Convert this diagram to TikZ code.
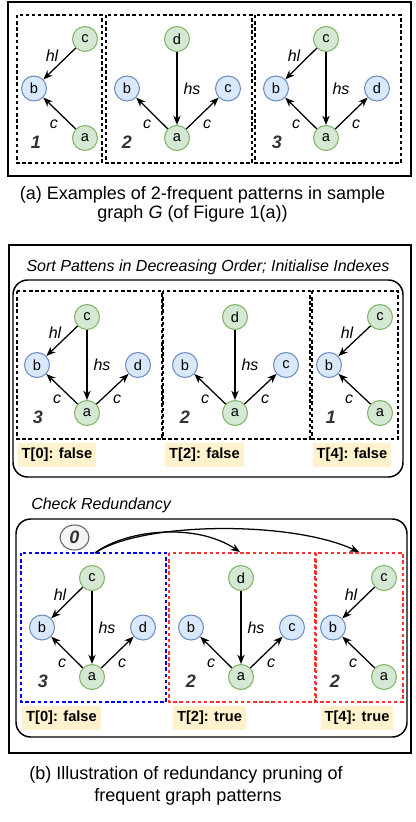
\documentclass[tikz,border=0pt]{standalone}
\usepackage{fontspec}
\setmainfont{Liberation Sans}
\usetikzlibrary{arrows.meta,shapes.geometric}
\definecolor{gfill}{HTML}{D5E8D4}
\definecolor{gline}{HTML}{82B366}
\definecolor{bfill}{HTML}{DAE8FC}
\definecolor{bline}{HTML}{6C8EBF}
\definecolor{tagfill}{HTML}{FFF2CC}
\definecolor{numgray}{HTML}{333333}
\definecolor{zfill}{HTML}{F5F5F5}
\definecolor{zline}{HTML}{666666}
\definecolor{redd}{HTML}{FF3333}
\definecolor{blued}{HTML}{0000FF}
\tikzset{
  gn/.style={circle, draw=gline, fill=gfill, line width=0.8pt, minimum size=18.75pt, inner sep=0pt, font=\fontsize{11}{12}\selectfont},
  bn/.style={circle, draw=bline, fill=bfill, line width=0.8pt, minimum size=18.75pt, inner sep=0pt, font=\fontsize{11}{12}\selectfont},
  ed/.style={-{Stealth[length=7pt,width=5.5pt]}, line width=0.95pt},
  el/.style={font=\fontsize{12}{14}\selectfont\itshape, inner sep=0pt},
  num/.style={font=\fontsize{13.5}{15}\selectfont\bfseries\itshape, text=numgray, inner sep=0pt},
  tag/.style={fill=tagfill, font=\fontsize{11}{13}\selectfont\bfseries, minimum height=18pt, inner xsep=3pt, inner ysep=0pt},
  dbox/.style={line width=0.95pt, dash pattern=on 2.6pt off 2pt},
  frame/.style={line width=1.8pt},
  rbox/.style={line width=1.1pt, rounded corners=11pt},
  captxt/.style={font=\fontsize{13.5}{16}\selectfont, inner sep=0pt},
  ttl/.style={font=\fontsize{12}{14}\selectfont\itshape, inner sep=0pt}
}
% pattern with c top, b left, d right, a bottom
\newcommand\patThree[5]{%
\begin{scope}[shift={(#2,#3)}]
  \node[gn] (#1t) at (0,0) {c};
  \node[bn] (#1b) at (-50,#4) {b};
  \node[bn] (#1r) at (51,#4) {d};
  \node[gn] (#1a) at (0,2*#4) {a};
  \draw[ed] (#1t) -- (#1b);
  \draw[ed] (#1t) -- (#1a);
  \draw[ed] (#1a) -- (#1b);
  \draw[ed] (#1a) -- (#1r);
  \node[el] (#1l1) at (-32,0.33*#4) {hl};
  \node[el] (#1l2) at (15,#4) {hs};
  \node[el] (#1l3) at (-30,1.72*#4) {c};
  \node[el] (#1l4) at (30,1.72*#4) {c};
  \node[num] (#1n) at (-49,2.08*#4) {#5};
\end{scope}}
% pattern with d top, b left, c right, a bottom
\newcommand\patTwo[5]{%
\begin{scope}[shift={(#2,#3)}]
  \node[gn] (#1t) at (0,0) {d};
  \node[bn] (#1b) at (-50,#4) {b};
  \node[bn] (#1r) at (51,#4) {c};
  \node[gn] (#1a) at (0,2*#4) {a};
  \draw[ed] (#1t) -- (#1a);
  \draw[ed] (#1a) -- (#1b);
  \draw[ed] (#1a) -- (#1r);
  \node[el] (#1l2) at (15,#4) {hs};
  \node[el] (#1l3) at (-30,1.72*#4) {c};
  \node[el] (#1l4) at (30,1.72*#4) {c};
  \node[num] (#1n) at (-50,2.08*#4) {#5};
\end{scope}}
% pattern with c top-right, b left, a bottom-right
\newcommand\patOne[5]{%
\begin{scope}[shift={(#2,#3)}]
  \node[gn] (#1t) at (0,0) {c};
  \node[bn] (#1b) at (-51,#4) {b};
  \node[gn] (#1a) at (0,2*#4) {a};
  \draw[ed] (#1t) -- (#1b);
  \draw[ed] (#1a) -- (#1b);
  \node[el] (#1l1) at (-33,0.33*#4) {hl};
  \node[el] (#1l3) at (-31,1.72*#4) {c};
  \node[num] (#1n) at (-49,2.08*#4) {#5};
\end{scope}}
\begin{document}
\begin{tikzpicture}[x=0.75pt,y=-0.75pt]
\useasboundingbox (0,0) rectangle (415,822);
% ---------- (a) ----------
\draw[frame] (8,2) rectangle (411,176);
\draw[dbox] (17,15) rectangle (102,163);
\draw[dbox] (106,15) rectangle (252,163);
\draw[dbox] (255,15) rectangle (401,163);
\patOne{pa}{85}{39}{49.5}{1}
\patTwo{pb}{177}{39}{49.5}{2}
\patThree{pc}{326}{39}{49.5}{3}
\node[captxt] (capa1) at (202.5,195) {(a) Examples of 2-frequent patterns in sample};
\node[captxt] (capa2) at (192.5,213.5) {graph \textit{G} (of Figure 1(a))};
% ---------- (b) ----------
\draw[frame] (9,245) rectangle (411,753);
\node[ttl] (t1) at (208,267) {Sort Pattens in Decreasing Order; Initialise Indexes};
\draw[rbox] (13,280) rectangle (403,477);
\draw[dbox] (17,291) rectangle (162,439);
\draw[dbox] (163,291) rectangle (310,439);
\draw[dbox] (312,291) rectangle (398,439);
\patThree{ma}{87}{317}{48}{3}
\patTwo{mb}{235}{317}{48}{2}
\patOne{mc}{380}{317}{48}{1}
\node[tag] (mt0) at (57,455) {T[0]: false};
\node[tag] (mt2) at (204.5,455) {T[2]: false};
\node[tag] (mt4) at (352,455) {T[4]: false};
\node[ttl, anchor=west] (t2) at (31,505) {Check Redundancy};
\draw[rbox] (16,519) rectangle (407,737);
\draw[dbox, draw=blued] (21,553) rectangle (166,702);
\draw[dbox, draw=redd] (169,553) rectangle (315,702);
\draw[dbox, draw=redd] (316,553) rectangle (403,702);
\patThree{ba}{92}{578}{49.5}{3}
\patTwo{bb}{241}{578}{49.5}{2}
\patOne{bc}{384}{578}{49.5}{2}
\node[ellipse, draw=zline, fill=zfill, line width=0.8pt, minimum width=21.75pt, minimum height=18.75pt, inner sep=0pt, font=\fontsize{13.5}{15}\selectfont\bfseries\itshape, text=numgray] (zero) at (74.5,537.5) {0};
\coordinate (src) at (95,553);
\coordinate (dst1) at (240,552);
\coordinate (dst2) at (359,552);
\draw[ed] (src) .. controls (125,530) and (195,522) .. (dst1);
\draw[ed] (src) .. controls (140,522) and (290,520) .. (dst2);
\node[tag] (bt0) at (61.5,717.5) {T[0]: false};
\node[tag] (bt2) at (209.5,717.5) {T[2]: true};
\node[tag] (bt4) at (357,717.5) {T[4]: true};
\node[captxt] (capb1) at (186,775) {(b) Illustration of redundancy pruning of};
\node[captxt] (capb2) at (188,797) {frequent graph patterns};
\end{tikzpicture}
\end{document}
